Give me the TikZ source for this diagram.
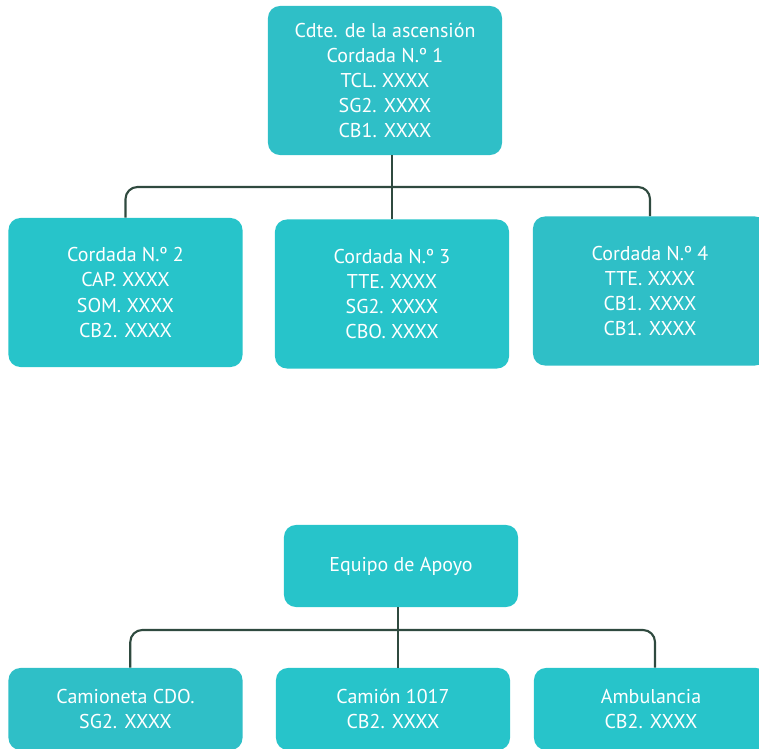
\documentclass[tikz,border=0pt]{standalone}
\usepackage{fontspec}
\setmainfont{PT Sans}
\definecolor{tealA}{HTML}{2FBFC7}
\definecolor{tealB}{HTML}{27C4CA}
\definecolor{linea}{HTML}{2F4A3F}
\tikzset{
  caja/.style={rounded corners=0.3cm, minimum width=5.85cm, minimum height=3.725cm,
    inner sep=0pt, text=white, align=center, font=\fontsize{14.2}{17.8}\selectfont},
  cajabaja/.style={caja, minimum height=2.05cm},
  conector/.style={draw=linea, line width=1.5pt, rounded corners=0.3cm}
}
\begin{document}
\begin{tikzpicture}[x=0.025cm,y=-0.025cm]
\clip (0,0) rectangle (759,749);

% cordadas
\node [caja, fill=tealA] (cdte) at (385,80.5)
  {Cdte. de la ascensión\\Cordada N.º 1\\TCL. XXXX\\SG2. XXXX\\CB1. XXXX};
\node [caja, fill=tealB] (c2) at (125.5,292.5) {Cordada N.º 2\\CAP. XXXX\\SOM. XXXX\\CB2. XXXX};
\node [caja, fill=tealB] (c3) at (392,294) {Cordada N.º 3\\TTE. XXXX\\SG2. XXXX\\CBO. XXXX};
\node [caja, fill=tealA] (c4) at (650,291) {Cordada N.º 4\\TTE. XXXX\\CB1. XXXX\\CB1. XXXX};

\coordinate (j1) at (392,187);
\draw [conector] (j1 |- cdte.south) -- (j1 |- c3.north);
\draw [conector] (c2.north) |- (j1) -| (c4.north);

% apoyo
\node [cajabaja, fill=tealB] (apoyo) at (401,566) {Equipo de Apoyo};
\node [cajabaja, fill=tealA] (camioneta) at (125.5,709) {Camioneta CDO.\\SG2. XXXX};
\node [cajabaja, fill=tealB] (camion) at (393,709) {Camión 1017\\CB2. XXXX};
\node [cajabaja, fill=tealB] (ambulancia) at (651,709) {Ambulancia\\CB2. XXXX};

\coordinate (j2) at (398,630);
\coordinate (p1) at ([xshift=0.12cm]camioneta.north);
\coordinate (p3) at ([xshift=0.1cm]ambulancia.north);
\draw [conector] (j2 |- apoyo.south) -- (j2 |- camion.north);
\draw [conector] (p1) |- (j2) -| (p3);
\end{tikzpicture}
\end{document}
